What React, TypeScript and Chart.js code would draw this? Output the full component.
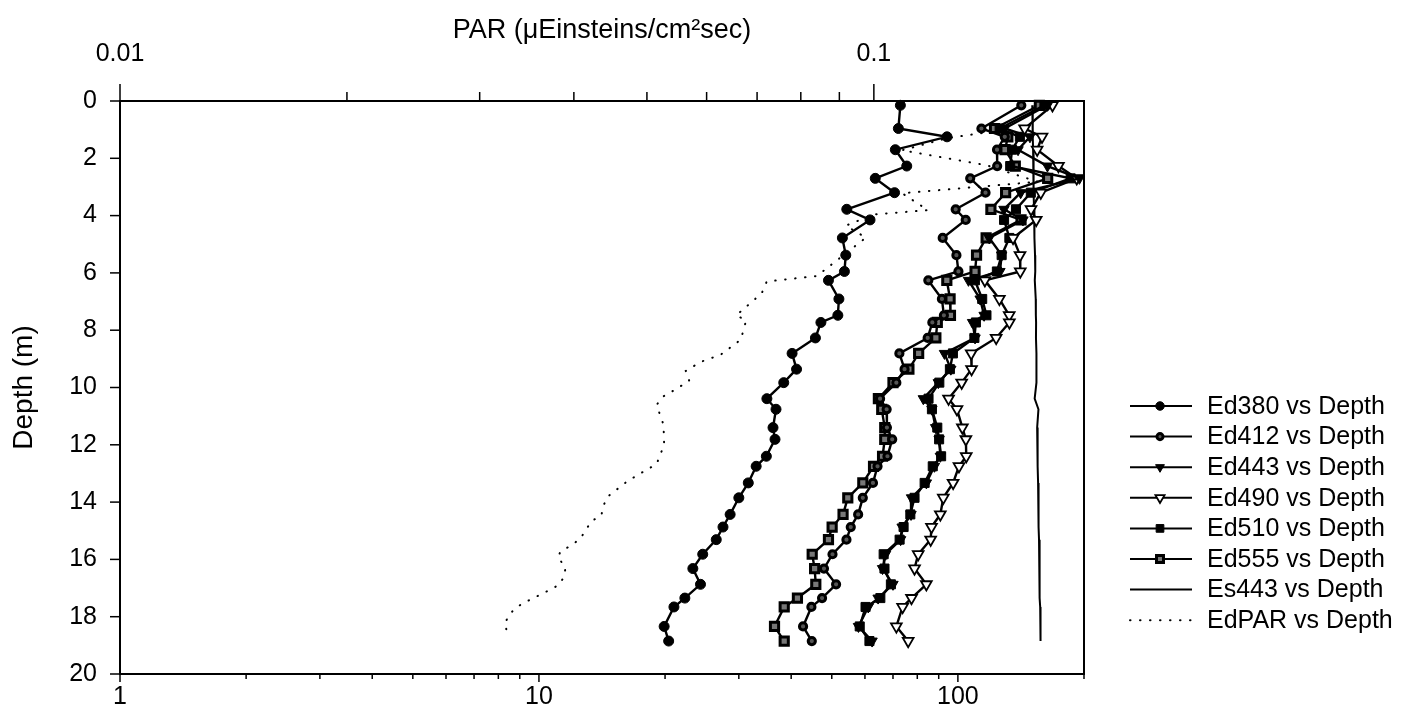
import React, { useEffect, useRef } from 'react';
import { Chart, registerables } from 'chart.js';

Chart.register(...registerables);

// ---------- data ----------
const depth = [0.15, 0.96, 1.25, 1.7, 2.27, 2.7, 3.2, 3.78, 4.15, 4.78, 5.38, 5.95, 6.26, 6.91, 7.48, 7.73, 8.27, 8.81, 9.36, 9.83, 10.39, 10.76, 11.4, 11.81, 12.4, 12.75, 13.33, 13.85, 14.43, 14.87, 15.31, 15.82, 16.32, 16.87, 17.35, 17.66, 18.34, 18.85];

const ed380 = [72.9, 72.1, 94.2, 70.9, 75.5, 63.5, 70.6, 54.3, 61.7, 53.0, 54.0, 53.6, 49.1, 52.0, 51.7, 47.1, 45.7, 40.2, 41.2, 38.4, 35.0, 36.8, 36.2, 36.6, 34.9, 33.0, 31.6, 30.0, 28.6, 27.5, 26.5, 24.6, 23.3, 24.3, 22.3, 21.0, 19.9, 20.4];

const ed412 = [141.7, 113.8, 129.4, 124.0, 124.1, 107.0, 116.4, 98.8, 104.4, 92.0, 99.2, 100.3, 85.0, 91.6, 92.6, 86.9, 84.7, 72.5, 74.6, 71.3, 65.2, 67.6, 67.7, 69.7, 67.9, 64.3, 62.7, 59.3, 57.8, 55.5, 54.2, 50.2, 47.9, 51.2, 47.4, 44.7, 42.7, 44.8];

const ed443 = [163.6, 129.3, 148.6, 139.2, 163.6, 195.0, 141.2, 128.8, 143.0, 118.8, 127.2, 126.0, 106.0, 113.0, 115.5, 108.4, 109.9, 92.9, 96.2, 89.8, 82.7, 86.7, 88.5, 90.2, 90.8, 87.9, 84.1, 77.5, 77.3, 73.6, 73.0, 67.2, 66.1, 70.0, 64.5, 61.1, 57.9, 62.4];

const ed490 = [168.2, 144.3, 158.8, 154.6, 173.8, 192.2, 157.7, 149.5, 153.8, 135.4, 140.7, 140.9, 116.0, 125.6, 132.6, 132.7, 123.4, 107.6, 107.8, 102.1, 95.0, 99.5, 102.5, 104.5, 104.7, 100.6, 97.4, 92.3, 90.8, 86.5, 86.1, 80.4, 78.8, 84.1, 77.5, 73.8, 71.3, 76.1];

const ed510 = [160.9, 125.8, 140.6, 134.7, 133.3, 185.9, 149.3, 137.6, 128.9, 132.7, 127.2, 123.9, 109.8, 114.3, 117.0, 110.4, 109.5, 97.3, 95.7, 90.3, 85.1, 86.7, 89.3, 90.2, 91.2, 87.1, 83.3, 78.8, 77.0, 74.2, 72.6, 66.5, 66.8, 69.2, 65.3, 60.2, 58.3, 61.5];

const ed555 = [156.5, 122.3, 131.6, 129.6, 137.1, 163.8, 130.0, 119.9, 141.5, 116.8, 110.8, 109.9, 94.1, 95.8, 96.0, 89.3, 88.6, 80.6, 76.4, 70.0, 64.6, 65.8, 66.9, 66.9, 66.1, 62.9, 59.3, 54.6, 53.2, 50.1, 49.1, 44.9, 45.5, 45.8, 41.4, 38.5, 36.5, 38.5];

const es443 = [150.5, 150.8, 151.0, 151.2, 151.4, 151.6, 151.8, 152.0, 152.2, 152.4, 152.8, 153.0, 152.6, 153.4, 153.5, 153.7, 153.6, 154.0, 153.8, 154.2, 152.5, 155.7, 154.6, 154.8, 155.0, 155.2, 155.4, 155.6, 155.8, 156.0, 156.2, 156.4, 156.6, 156.8, 157.0, 157.2, 157.4, 157.6];

const parDepth = [1.12, 1.3, 1.72, 2.24, 2.82, 3.22, 3.81, 3.96, 4.35, 4.77, 6.11, 6.3, 6.71, 7.48, 7.66, 8.33, 8.86, 9.1, 9.42, 9.77, 10.15, 10.33, 10.61, 11.3, 12.0, 12.67, 12.88, 13.27, 13.8, 14.11, 14.46, 14.67, 15.27, 15.51, 15.72, 15.93, 16.28, 16.63, 16.91, 17.09, 17.44, 17.62, 17.86, 18.21, 18.53];

const edPar = [0.139, 0.125, 0.109, 0.141, 0.165, 0.109, 0.118, 0.1, 0.0918, 0.0976, 0.084, 0.0721, 0.071, 0.0657, 0.0677, 0.0666, 0.0626, 0.059, 0.0563, 0.0569, 0.0539, 0.0524, 0.0515, 0.0526, 0.0527, 0.0515, 0.0499, 0.0471, 0.0444, 0.0438, 0.0435, 0.0422, 0.0408, 0.0397, 0.0384, 0.0381, 0.039, 0.0388, 0.0381, 0.037, 0.0348, 0.0338, 0.033, 0.0324, 0.0326];

const depthTicks = [0, 2, 4, 6, 8, 10, 12, 14, 16, 18, 20];
const bottomRange = [1, 200];
const topRange = [0.01, 0.19];

const FONT = '"Liberation Sans", Arial, Helvetica, sans-serif';

const pts = (xs: number[], ys: number[]) => xs.map((x, i) => ({ x, y: ys[i] }));
const isDecade = (v: number) => Math.abs(Math.log10(v) - Math.round(Math.log10(v))) < 1e-6;

type Mk = { style: string; r: number; fill: string; bw: number; rot: number };

function drawMarker(ctx: CanvasRenderingContext2D, m: Mk, x: number, y: number) {
  if (m.style === 'none' || m.r <= 0) return;
  ctx.beginPath();
  if (m.style === 'circle') {
    ctx.arc(x, y, m.r, 0, Math.PI * 2);
  } else if (m.style === 'rect') {
    const s = Math.SQRT1_2 * m.r;
    ctx.rect(x - s, y - s, 2 * s, 2 * s);
  } else if (m.style === 'triangle') {
    let a = (m.rot * Math.PI) / 180;
    for (let k = 0; k < 3; k++) {
      const px = x + Math.sin(a) * m.r;
      const py = y - Math.cos(a) * m.r;
      if (k === 0) ctx.moveTo(px, py);
      else ctx.lineTo(px, py);
      a += (2 * Math.PI) / 3;
    }
    ctx.closePath();
  }
  ctx.fillStyle = m.fill;
  ctx.fill();
  ctx.lineWidth = m.bw;
  ctx.strokeStyle = '#000';
  ctx.setLineDash([]);
  ctx.stroke();
}

const frameTicks = {
  id: 'frameTicks',
  afterDraw(chart: any) {
    const { ctx, chartArea: a, scales } = chart;
    ctx.save();
    ctx.strokeStyle = '#000';
    ctx.setLineDash([]);
    ctx.lineWidth = 2;
    ctx.strokeRect(a.left, a.top, a.right - a.left, a.bottom - a.top);
    ctx.lineWidth = 1.5;
    const seg = (x1: number, y1: number, x2: number, y2: number) => {
      ctx.beginPath();
      ctx.moveTo(x1, y1);
      ctx.lineTo(x2, y2);
      ctx.stroke();
    };
    const xs = scales.x;
    for (let e = 0; e <= 2; e++) {
      for (let m = 1; m <= 9; m++) {
        const v = m * Math.pow(10, e);
        if (v < xs.min * 0.999 || v > xs.max * 1.001) continue;
        const px = xs.getPixelForValue(v);
        seg(px, a.bottom, px, a.bottom + (m === 1 ? 8 : 5));
      }
    }
    const x2 = scales.x2;
    for (let e = -2; e <= -1; e++) {
      for (let m = 1; m <= 9; m++) {
        const v = m * Math.pow(10, e);
        if (v < x2.min * 0.999 || v > x2.max * 1.001) continue;
        const px = x2.getPixelForValue(v);
        seg(px, a.top, px, a.top - (m === 1 ? 17 : 9));
      }
    }
    const ys = scales.y;
    depthTicks.forEach((d) => {
      const py = ys.getPixelForValue(d);
      seg(a.left - 10, py, a.left, py);
    });
    ctx.restore();
  },
};

const legendPlugin = {
  id: 'lineLegend',
  afterDraw(chart: any) {
    const { ctx, chartArea: a } = chart;
    ctx.save();
    const x0 = a.right + 46;
    const x1 = a.right + 108;
    const xm = a.right + 76;
    const xt = a.right + 123;
    const y0 = a.top + 305;
    const dy = 30.6;
    chart.data.datasets.forEach((ds: any, i: number) => {
      const y = y0 + i * dy;
      ctx.strokeStyle = '#000';
      ctx.lineWidth = ds.legendLineWidth || ds.borderWidth;
      ctx.lineCap = ds.borderCapStyle || 'butt';
      ctx.setLineDash(ds.borderDash || []);
      ctx.beginPath();
      ctx.moveTo(x0, y);
      ctx.lineTo(x1, y);
      ctx.stroke();
      ctx.lineCap = 'butt';
      drawMarker(ctx, {
        style: ds.pointRadius > 0 ? ds.pointStyle : 'none',
        r: ds.pointRadius * 0.85,
        fill: ds.pointBackgroundColor,
        bw: ds.pointBorderWidth,
        rot: ds.pointRotation || 0,
      }, xm, y);
      ctx.fillStyle = '#000';
      ctx.font = `25px ${FONT}`;
      ctx.textAlign = 'left';
      ctx.textBaseline = 'middle';
      ctx.fillText(ds.label, xt, y + 1);
    });
    ctx.restore();
  },
};

function edSet(label: string, values: number[], style: string, r: number, fill: string, bw: number, rot = 0) {
  return {
    label,
    data: pts(values, depth),
    xAxisID: 'x',
    yAxisID: 'y',
    showLine: true,
    borderColor: '#000',
    borderWidth: 2.4,
    legendLineWidth: 2,
    pointStyle: style,
    pointRadius: r,
    pointHoverRadius: r,
    pointBackgroundColor: fill,
    pointBorderColor: '#000',
    pointBorderWidth: bw,
    pointRotation: rot,
    clip: false,
  };
}

export default function App() {
  const ref = useRef<HTMLCanvasElement | null>(null);

  useEffect(() => {
    if (!ref.current) return;
    const tickFont = { family: FONT, size: 25 };
    const chart = new Chart(ref.current, {
      type: 'scatter',
      data: {
        datasets: [
          edSet('Ed380 vs Depth', ed380, 'circle', 5, '#000', 1),
          edSet('Ed412 vs Depth', ed412, 'circle', 3.6, '#555', 3),
          edSet('Ed443 vs Depth', ed443, 'triangle', 6, '#000', 1, 180),
          edSet('Ed490 vs Depth', ed490, 'triangle', 6.2, '#fff', 1.8, 180),
          edSet('Ed510 vs Depth', ed510, 'rect', 6.4, '#000', 1),
          edSet('Ed555 vs Depth', ed555, 'rect', 5.8, '#777', 3),
          {
            label: 'Es443 vs Depth',
            data: pts(es443, depth),
            xAxisID: 'x',
            yAxisID: 'y',
            showLine: true,
            borderColor: '#000',
            borderWidth: 2,
            pointRadius: 0,
            pointHoverRadius: 0,
            pointStyle: 'circle',
            pointBackgroundColor: '#000',
            pointBorderWidth: 0,
          },
          {
            label: 'EdPAR vs Depth',
            data: pts(edPar, parDepth),
            xAxisID: 'x2',
            yAxisID: 'y',
            showLine: true,
            borderColor: '#000',
            borderWidth: 2,
            borderDash: [0.5, 9.5],
            borderCapStyle: 'round',
            pointRadius: 0,
            pointHoverRadius: 0,
            pointStyle: 'circle',
            pointBackgroundColor: '#000',
            pointBorderWidth: 0,
          },
        ] as any,
      },
      options: {
        responsive: false,
        devicePixelRatio: 1,
        animation: false,
        events: [],
        layout: { padding: { left: 0, top: 0, right: 326, bottom: 0 } },
        plugins: {
          legend: { display: false },
          tooltip: { enabled: false },
          title: { display: false },
        },
        scales: {
          x: {
            type: 'logarithmic',
            position: 'bottom',
            min: bottomRange[0],
            max: bottomRange[1],
            grid: { display: false, drawTicks: false },
            border: { display: false },
            ticks: {
              autoSkip: false,
              maxRotation: 0,
              minRotation: 0,
              padding: 8,
              color: '#000',
              font: tickFont,
              callback: (v: any) => (isDecade(Number(v)) ? String(Number(v)) : ''),
            },
            afterFit: (s: any) => { s.height = 50; },
          },
          x2: {
            type: 'logarithmic',
            position: 'top',
            min: topRange[0],
            max: topRange[1],
            grid: { display: false, drawTicks: false },
            border: { display: false },
            ticks: {
              autoSkip: false,
              maxRotation: 0,
              minRotation: 0,
              padding: 32,
              color: '#000',
              font: tickFont,
              callback: (v: any) => (isDecade(Number(v)) ? String(Number(v)) : ''),
            },
            title: {
              display: true,
              text: 'PAR (\u03BCEinsteins/cm\u00B2sec)',
              color: '#000',
              font: { family: FONT, size: 27 },
              padding: { top: 14, bottom: 0 },
            },
            afterFit: (s: any) => { s.height = 101; },
          },
          y: {
            type: 'linear',
            position: 'left',
            reverse: true,
            min: 0,
            max: 20,
            grid: { display: false, drawTicks: false },
            border: { display: false },
            ticks: {
              stepSize: 2,
              padding: 23,
              color: '#000',
              font: tickFont,
            },
            title: {
              display: true,
              text: 'Depth (m)',
              color: '#000',
              font: { family: FONT, size: 28 },
              padding: { top: 7, bottom: 0 },
            },
            afterFit: (s: any) => { s.width = 120; },
          },
        },
      } as any,
      plugins: [frameTicks, legendPlugin],
    });
    return () => chart.destroy();
  }, []);

  return (
    <div style={{ position: 'absolute', left: 0, top: 0, width: 1410, height: 724, background: '#fff' }}>
      <canvas ref={ref} width={1410} height={724} style={{ display: 'block' }} />
    </div>
  );
}
